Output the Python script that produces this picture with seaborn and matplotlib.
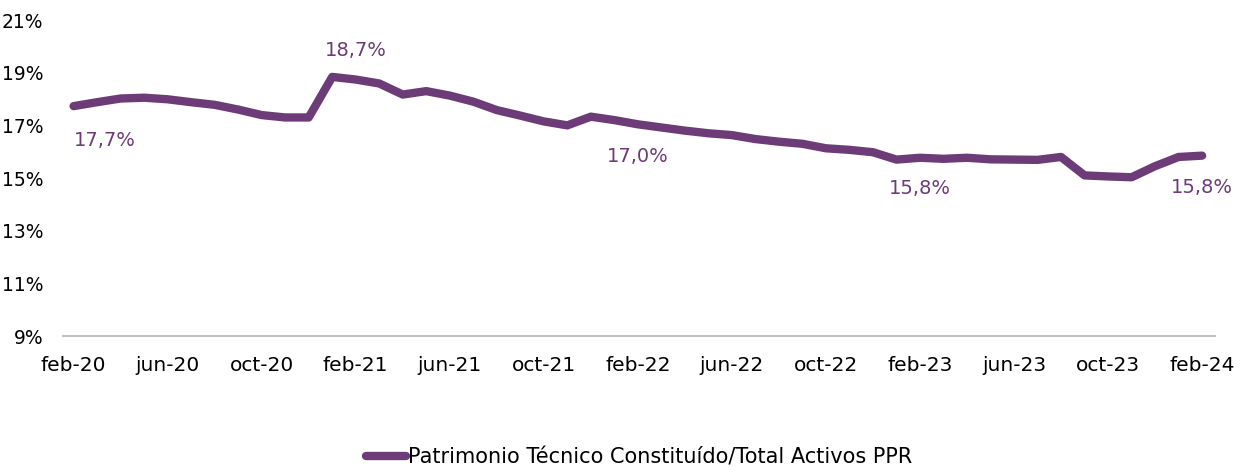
import matplotlib
matplotlib.use("Agg")
import matplotlib.pyplot as plt
import seaborn as sns
import pandas as pd

# Monthly series, feb-20 .. feb-24
months = ["feb-20", "mar-20", "abr-20", "may-20", "jun-20", "jul-20", "ago-20", "sep-20",
          "oct-20", "nov-20", "dic-20", "ene-21", "feb-21", "mar-21", "abr-21", "may-21",
          "jun-21", "jul-21", "ago-21", "sep-21", "oct-21", "nov-21", "dic-21", "ene-22",
          "feb-22", "mar-22", "abr-22", "may-22", "jun-22", "jul-22", "ago-22", "sep-22",
          "oct-22", "nov-22", "dic-22", "ene-23", "feb-23", "mar-23", "abr-23", "may-23",
          "jun-23", "jul-23", "ago-23", "sep-23", "oct-23", "nov-23", "dic-23", "ene-24",
          "feb-24"]
ratio = [17.73, 17.88, 18.02, 18.05, 17.99, 17.88, 17.78, 17.60, 17.39, 17.30, 17.30, 18.84,
         18.74, 18.59, 18.17, 18.30, 18.13, 17.90, 17.58, 17.37, 17.15, 17.00, 17.33, 17.20,
         17.04, 16.92, 16.80, 16.70, 16.63, 16.48, 16.38, 16.30, 16.13, 16.07, 15.98, 15.70,
         15.77, 15.73, 15.77, 15.71, 15.70, 15.69, 15.80, 15.10, 15.06, 15.03, 15.45, 15.80,
         15.85]
series_name = "Patrimonio Técnico Constituído/Total Activos PPR"
label_months = ["feb-20", "feb-21", "feb-22", "feb-23", "feb-24"]
# (dx, dy) in points and horizontal alignment for each value label
label_offsets = [(0, -25), (0, 21), (0, -23), (0, -22), (0, -23)]
label_align = ["left", "center", "center", "center", "center"]
y_ticks = [9, 11, 13, 15, 17, 19, 21]

purple = "#6d3b77"

df = pd.DataFrame({"idx": range(len(months)), "mes": months, "valor": ratio,
                   "serie": series_name})

sns.set_theme(style="white")
plt.rcParams["font.family"] = ["DejaVu Sans"]

fig = plt.figure(figsize=(12.43, 4.72), dpi=100)
ax = fig.add_axes([0.0507, 0.288, 0.9268, 0.6696])

sns.lineplot(data=df, x="idx", y="valor", hue="serie", palette=[purple],
             linewidth=6, ax=ax, solid_capstyle="round", legend=True)

# value labels every twelve months
for m, (dx, dy), ha in zip(label_months, label_offsets, label_align):
    i = months.index(m)
    v = ratio[i]
    ax.annotate(f"{v:.1f}%".replace(".", ","), xy=(i, v), xytext=(dx, dy),
                textcoords="offset points", ha=ha, va="center",
                fontsize=14, color=purple)

ax.set_xlim(-0.45, len(months) - 1 + 0.55)
ax.set_ylim(9, 21)
ax.set_yticks(y_ticks)
ax.set_yticklabels([f"{t}%" for t in y_ticks])
tick_idx = list(range(0, len(months), 4))
ax.set_xticks(tick_idx)
ax.set_xticklabels([months[i] for i in tick_idx])
ax.tick_params(axis="y", length=0, labelsize=13.5, colors="black", pad=14)
ax.tick_params(axis="x", length=0, labelsize=14.5, colors="black", pad=14)
ax.set_xlabel("")
ax.set_ylabel("")
for s in ["top", "right", "left"]:
    ax.spines[s].set_visible(False)
ax.spines["bottom"].set_color("#bfbfbf")
ax.spines["bottom"].set_linewidth(1.5)
ax.grid(False)

leg = ax.legend(loc="center", bbox_to_anchor=(0.5, -0.385), frameon=False,
                fontsize=15, handlelength=1.9, handletextpad=0.1)
for h in leg.get_lines():
    h.set_linewidth(6)
for t in leg.get_texts():
    t.set_color("black")

fig.savefig("out.png", dpi=100)
